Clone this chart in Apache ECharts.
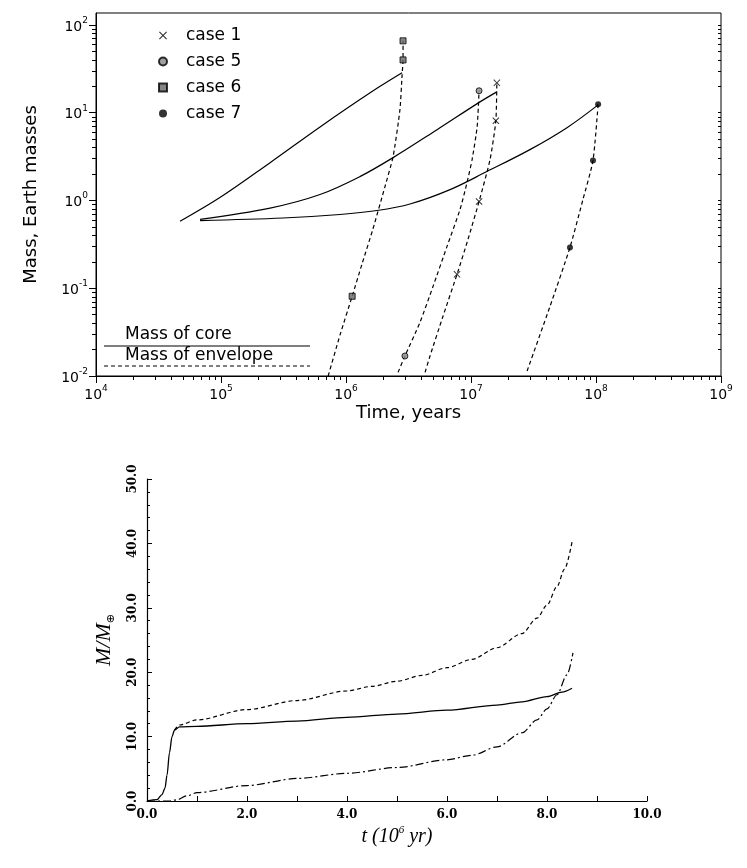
<!DOCTYPE html>
<html>
<head>
<meta charset="utf-8">
<script src="https://cdn.jsdelivr.net/npm/echarts@6/dist/echarts.min.js"></script>
<style>
  html, body { margin: 0; padding: 0; background: #fff; }
  #chart { width: 747px; height: 868px; }
</style>
</head>
<body>
<div id="chart"></div>
<script>
// ---- top panel: mass vs time, log-log ----
var xMajor = [1e4, 1e5, 1e6, 1e7, 1e8, 1e9];
var yMajor = [0.01, 0.1, 1, 10, 100];

// core mass (solid)
var core6 = [[4.7e4,0.58],[9.8e4,1.08],[2.47e5,2.7],[6.2e5,6.9],[1.56e6,16.9],[2.81e6,28.5]];
var core1 = [[6.8e4,0.61],[2.47e5,0.82],[6.2e5,1.17],[1.29e6,1.87],[2.38e6,3.08],[5.35e6,6.41],[1.18e7,13.3],[1.61e7,17.3]];
var core7 = [[6.8e4,0.59],[3.13e5,0.632],[8.95e5,0.693],[1.77e6,0.769],[3.25e6,0.912],[6.8e6,1.33],[1.34e7,2.14],[2.96e7,3.8],[5.86e7,6.76],[1.04e8,12.3]];

// envelope mass (dashed)
var env6 = [[7.2e5,0.01],[9.0e5,0.03],[1.12e6,0.081],[1.34e6,0.187],[1.64e6,0.47],[2.05e6,1.44],[2.38e6,3.16],[2.7e6,10.8],[2.81e6,27],[2.86e6,40],[2.86e6,66]];
var env5 = [[2.61e6,0.011],[2.96e6,0.0169],[3.91e6,0.041],[4.97e6,0.105],[6.43e6,0.30],[8.17e6,0.79],[9.29e6,1.6],[1.02e7,2.92],[1.12e7,6.93],[1.16e7,17.8]];
var env1 = [[4.29e6,0.011],[4.7e6,0.0169],[5.97e6,0.048],[7.73e6,0.144],[9.46e6,0.36],[1.16e7,0.975],[1.42e7,2.92],[1.58e7,8.1],[1.61e7,21.9]];
var env7 = [[2.81e7,0.0114],[4.29e7,0.0624],[6.19e7,0.292],[7.87e7,1.03],[9.46e7,2.85],[1.04e8,12.5]];

// plotted markers
var mark1 = [[7.73e6,0.144],[1.16e7,0.975],[1.58e7,8.1],[1.61e7,21.9]];
var mark5 = [[2.96e6,0.0169],[1.16e7,17.8]];
var mark6 = [[1.12e6,0.081],[2.86e6,40],[2.86e6,66]];
var mark7 = [[6.19e7,0.292],[9.46e7,2.85],[1.04e8,12.5]];

// ---- bottom panel: M/M_earth vs t (Myr) ----
var coreMass = [[0,0],[0.2,0.2],[0.3,1],[0.36,2],[0.4,4],[0.45,7.5],[0.5,10],[0.55,11],[0.65,11.5],[1,11.6],[2,12],[3,12.4],[4,13],[5,13.5],[6,14.1],[7,14.9],[7.5,15.4],[8,16.2],[8.3,16.9],[8.5,17.5]];
var totalMass = [[0.55,11],[0.65,11.8],[1,12.6],[2,14.2],[3,15.6],[4,17.1],[4.5,17.8],[5,18.6],[5.5,19.5],[6,20.7],[6.5,22],[7,23.8],[7.5,26],[7.8,28.4],[8,30.4],[8.2,33.3],[8.35,36],[8.5,40.2]];
var envMass = [[0,0],[0.45,0],[0.6,0.2],[0.8,0.8],[1,1.3],[2,2.4],[3,3.5],[4,4.3],[5,5.2],[6,6.4],[6.5,7.1],[7,8.4],[7.5,10.6],[7.8,12.6],[8,14.3],[8.2,16.5],[8.4,19.6],[8.52,23]];

function minorOf(major) {
    var out = [];
    major.forEach(function (m) {
        for (var k = 2; k <= 9; k++) out.push(m * k);
    });
    return out;
}
var xMinor = minorOf(xMajor);
var yMinor = minorOf(yMajor);

function powLabel(v) {
    var e = Math.round(Math.log10(v));
    return '{b|10}{s|' + e + '}';
}
var powRich = {
    b: { fontFamily: 'DejaVu Sans', fontSize: 14, color: '#000', lineHeight: 18, verticalAlign: 'bottom' },
    s: { fontFamily: 'DejaVu Sans', fontSize: 9, color: '#000', lineHeight: 10, verticalAlign: 'top' }
};

var crossIcon = 'path://M0,1L1,0L5,4L9,0L10,1L6,5L10,9L9,10L5,6L1,10L0,9L4,5Z';
var blk = '#000';

function solid(name, data) {
    return { name: name, type: 'line', xAxisIndex: 0, yAxisIndex: 0, data: data, showSymbol: false,
        smooth: 0.35, lineStyle: { color: blk, width: 1.2 }, silent: true };
}
function dashed(name, data) {
    return { name: name, type: 'line', xAxisIndex: 0, yAxisIndex: 0, data: data, showSymbol: false,
        smooth: 0.2, lineStyle: { color: blk, width: 1.2, type: [4, 3] }, silent: true };
}
function marks(name, data, symbol, size, style) {
    return { name: name, type: 'scatter', xAxisIndex: 0, yAxisIndex: 0, data: data,
        symbol: symbol, symbolSize: size, itemStyle: style, z: 5 };
}

var chart = echarts.init(document.getElementById('chart'));

var option = {
    animation: false,
    backgroundColor: '#fff',
    grid: [
        { left: 96, right: 26, top: 13, height: 363, show: true, borderColor: blk, borderWidth: 1 },
        { left: 147, right: 100, top: 479, bottom: 67 }
    ],
    legend: {
        left: 153, top: 22, orient: 'vertical', itemGap: 9, itemWidth: 8, itemHeight: 8,
        selectedMode: false,
        textStyle: { fontFamily: 'DejaVu Sans', fontSize: 17, color: blk, padding: [0, 0, 0, 14] },
        data: [
            { name: 'case 1', icon: crossIcon },
            { name: 'case 5', icon: 'circle' },
            { name: 'case 6', icon: 'rect' },
            { name: 'case 7', icon: 'circle' }
        ]
    },
    xAxis: [
        {
            type: 'log', gridIndex: 0, min: 1e4, max: 1e9,
            name: 'Time, years', nameLocation: 'middle', nameGap: 28,
            nameTextStyle: { fontFamily: 'DejaVu Sans', fontSize: 18, color: blk },
            axisLine: { show: true, lineStyle: { color: blk, width: 1 } },
            axisTick: { show: true, customValues: xMajor, length: 7, lineStyle: { color: blk } },
            axisLabel: { customValues: xMajor, formatter: powLabel, rich: powRich, margin: 8 },
            splitLine: { show: false }
        },
        {
            type: 'log', gridIndex: 0, min: 1e4, max: 1e9, position: 'bottom',
            axisLine: { show: false },
            axisTick: { show: true, customValues: xMinor, length: 4, lineStyle: { color: blk } },
            axisLabel: { show: false },
            splitLine: { show: false }
        },
        {
            type: 'value', gridIndex: 1, min: 0, max: 10, interval: 1,
            name: '{i|t (10}{s|6}{i| yr)}', nameLocation: 'middle', nameGap: 24,
            nameTextStyle: {
                rich: {
                    i: { fontFamily: 'Liberation Serif', fontStyle: 'italic', fontSize: 20, color: blk, lineHeight: 22, verticalAlign: 'bottom' },
                    s: { fontFamily: 'Liberation Serif', fontStyle: 'italic', fontSize: 11, color: blk, lineHeight: 12, verticalAlign: 'top' }
                }
            },
            axisLine: { show: true, lineStyle: { color: blk, width: 1.2 } },
            axisTick: { show: true, inside: true, length: 5, lineStyle: { color: blk } },
            axisLabel: {
                margin: 8, fontFamily: 'DejaVu Serif', fontWeight: 'bold', fontSize: 12, color: blk,
                formatter: function (v) { return v % 2 === 0 ? v.toFixed(1) : ''; }
            },
            splitLine: { show: false }
        }
    ],
    yAxis: [
        {
            type: 'log', gridIndex: 0, min: 0.01, max: 137,
            name: 'Mass, Earth masses', nameLocation: 'middle', nameGap: 56, nameRotate: 90,
            nameTextStyle: { fontFamily: 'DejaVu Sans', fontSize: 18, color: blk },
            axisLine: { show: true, lineStyle: { color: blk, width: 1 } },
            axisTick: { show: true, customValues: yMajor, length: 7, lineStyle: { color: blk } },
            axisLabel: { customValues: yMajor, formatter: powLabel, rich: powRich, margin: 8 },
            splitLine: { show: false }
        },
        {
            type: 'log', gridIndex: 0, min: 0.01, max: 137, position: 'left',
            axisLine: { show: false },
            axisTick: { show: true, customValues: yMinor, length: 4, lineStyle: { color: blk } },
            axisLabel: { show: false },
            splitLine: { show: false }
        },
        {
            type: 'log', gridIndex: 0, min: 0.01, max: 137, position: 'right',
            axisLine: { show: false },
            axisTick: { show: true, inside: true, customValues: yMinor.concat(yMajor), length: 3, lineStyle: { color: blk } },
            axisLabel: { show: false },
            splitLine: { show: false }
        },
        {
            type: 'value', gridIndex: 1, min: 0, max: 50, interval: 10,
            name: '{i|M/M}{s|⊕}', nameLocation: 'middle', nameGap: 30, nameRotate: 90,
            nameTextStyle: {
                rich: {
                    i: { fontFamily: 'Liberation Serif', fontStyle: 'italic', fontSize: 22, color: blk, lineHeight: 24, verticalAlign: 'top' },
                    s: { fontFamily: 'DejaVu Sans', fontSize: 11, color: blk, lineHeight: 12, verticalAlign: 'bottom' }
                }
            },
            axisLine: { show: true, lineStyle: { color: blk, width: 1.2 } },
            axisTick: { show: true, inside: true, length: 5, lineStyle: { color: blk } },
            minorTick: { show: true, splitNumber: 5, length: 3, lineStyle: { color: blk } },
            axisLabel: {
                rotate: 90, margin: 8, fontFamily: 'DejaVu Serif', fontWeight: 'bold', fontSize: 12, color: blk,
                formatter: function (v) { return v.toFixed(1); }
            },
            splitLine: { show: false }
        }
    ],
    graphic: [
        { type: 'line', shape: { x1: 104, y1: 346, x2: 310, y2: 346 }, style: { stroke: blk, lineWidth: 1.2 } },
        { type: 'line', shape: { x1: 104, y1: 366, x2: 310, y2: 366 }, style: { stroke: blk, lineWidth: 1.2, lineDash: [4, 3] } },
        { type: 'text', left: 125, top: 326, style: { text: 'Mass of core', font: '17px "DejaVu Sans"', fill: blk } },
        { type: 'text', left: 125, top: 347, style: { text: 'Mass of envelope', font: '17px "DejaVu Sans"', fill: blk } }
    ],
    series: [
        solid('core 6', core6),
        solid('core 1', core1),
        solid('core 7', core7),
        dashed('env 6', env6),
        dashed('env 5', env5),
        dashed('env 1', env1),
        dashed('env 7', env7),
        marks('case 1', mark1, crossIcon, 7, { color: blk }),
        marks('case 5', mark5, 'circle', 6, { color: '#888', borderColor: blk, borderWidth: 1 }),
        marks('case 6', mark6, 'rect', 6, { color: '#666', borderColor: blk, borderWidth: 1 }),
        marks('case 7', mark7, 'circle', 6, { color: blk }),
        {
            name: 'core mass', type: 'line', xAxisIndex: 2, yAxisIndex: 3, data: coreMass,
            showSymbol: false, smooth: 0.3, smoothMonotone: 'x', lineStyle: { color: blk, width: 1.3 }
        },
        {
            name: 'total mass', type: 'line', xAxisIndex: 2, yAxisIndex: 3, data: totalMass,
            showSymbol: false, smooth: 0.3, smoothMonotone: 'x', lineStyle: { color: blk, width: 1.2, type: [4, 3] }
        },
        {
            name: 'envelope mass', type: 'line', xAxisIndex: 2, yAxisIndex: 3, data: envMass,
            showSymbol: false, smooth: 0.3, smoothMonotone: 'x', lineStyle: { color: blk, width: 1.2, type: [8, 3, 2, 3] }
        }
    ]
};

chart.setOption(option);
</script>
</body>
</html>
